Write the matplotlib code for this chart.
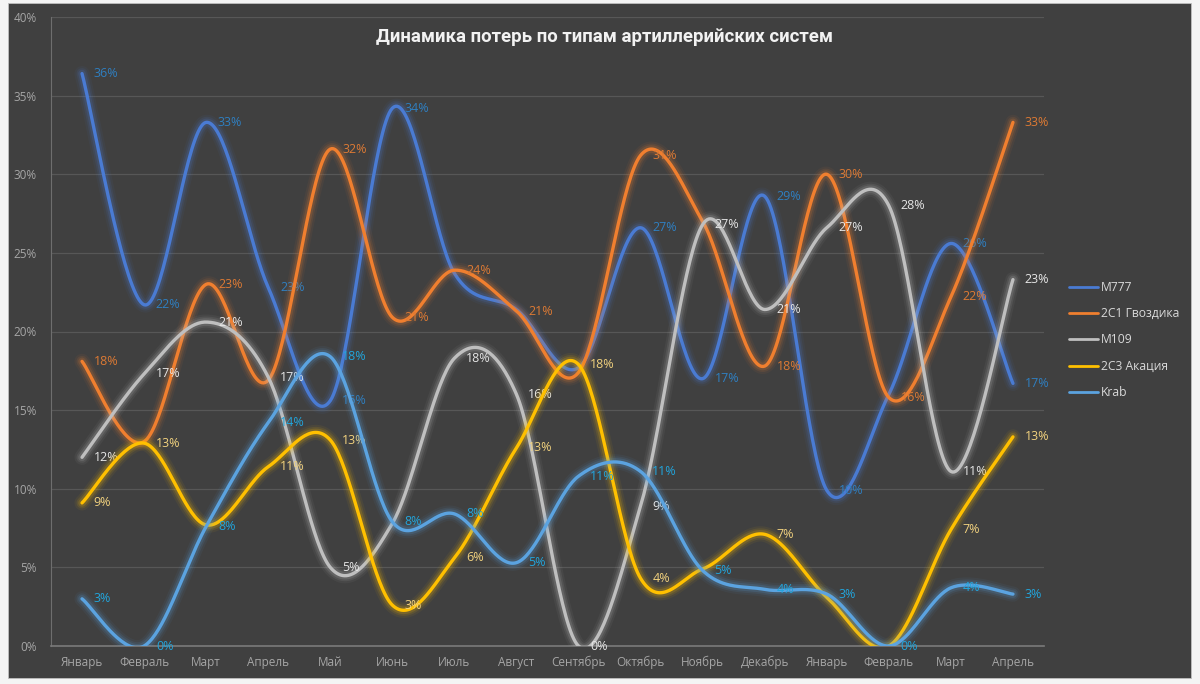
import numpy as np
import matplotlib
matplotlib.use("Agg")
import matplotlib.pyplot as plt
from matplotlib.patches import Rectangle
from matplotlib.ticker import FuncFormatter, MultipleLocator

plt.rcParams['font.family'] = ['Open Sans', 'DejaVu Sans']

title = "Динамика потерь по типам артиллерийских систем"
months = ["Январь", "Февраль", "Март", "Апрель", "Май", "Июнь", "Июль", "Август",
          "Сентябрь", "Октябрь", "Ноябрь", "Декабрь", "Январь", "Февраль", "Март", "Апрель"]

series_names = ["M777", "2С1 Гвоздика", "M109", "2С3 Акация", "Krab"]
m777 = [36.4, 21.7, 33.3, 22.8, 15.6, 34.2, 23.7, 21.4, 17.7, 26.6, 17.0, 28.6, 9.9, 16.0, 25.6, 16.7]
gvozdika = [18.1, 13.0, 23.0, 16.9, 31.6, 20.9, 23.9, 21.3, 17.4, 31.2, 27.0, 17.8, 30.0, 15.8, 22.2, 33.3]
m109 = [12.0, 17.3, 20.6, 17.1, 5.0, 7.8, 18.3, 16.0, 0.0, 8.9, 26.8, 21.4, 26.6, 28.0, 11.1, 23.3]
akacia = [9.1, 12.9, 7.7, 11.4, 13.1, 2.6, 5.6, 12.6, 17.9, 4.3, 4.9, 7.1, 3.1, 0.0, 7.4, 13.3]
krab = [3.0, 0.0, 7.6, 14.2, 18.4, 7.9, 8.4, 5.3, 10.8, 11.1, 4.8, 3.6, 3.3, 0.0, 3.7, 3.3]

all_series = [m777, gvozdika, m109, akacia, krab]
line_colors = ["#4A7BD3", "#F07F2F", "#BFBFBF", "#FFC000", "#5BA3E0"]
label_colors = ["#2F7FC1", "#DD7A34", "#E6E6E6", "#F2D27E", "#22A5DC"]

BG = "#404040"


def smooth(yvals, steps=40):
    n = len(yvals)
    P = np.column_stack([np.arange(n, dtype=float), np.asarray(yvals, dtype=float)])
    out = []
    t = np.linspace(0, 1, steps)[:, None]
    for i in range(n - 1):
        p0 = P[i - 1] if i > 0 else P[i]
        p1 = P[i]
        p2 = P[i + 1]
        p3 = P[i + 2] if i + 2 < n else P[i + 1]
        c1 = p1 + (p2 - p0) / 6.0
        c2 = p2 - (p3 - p1) / 6.0
        seg = (1 - t) ** 3 * p1 + 3 * (1 - t) ** 2 * t * c1 + 3 * (1 - t) * t ** 2 * c2 + t ** 3 * p2
        out.append(seg if i == 0 else seg[1:])
    return np.vstack(out)


fig = plt.figure(figsize=(12, 6.84), dpi=100, facecolor="#F4F4F4")
bg = Rectangle((8 / 1200, 1 - 678 / 684), (1191 - 8) / 1200, (678 - 3) / 684,
               transform=fig.transFigure, facecolor=BG, edgecolor="#BFBFBF",
               linewidth=0.6, zorder=-10)
fig.patches.append(bg)

ax = fig.add_axes([51 / 1200, 1 - 646 / 684, (1044 - 51) / 1200, 629 / 684])
ax.set_facecolor(BG)
ax.patch.set_alpha(0)

for i, (name, vals) in enumerate(zip(series_names, all_series)):
    pts = smooth(vals)
    z = 3 + 2 * i
    col = line_colors[i]
    for lw, a in [(11, 0.06), (8, 0.10), (5.5, 0.16)]:
        ax.plot(pts[:, 0], pts[:, 1], color=col, lw=lw, alpha=a, solid_capstyle='round', zorder=z)
    ax.plot(pts[:, 0], pts[:, 1], color=col, lw=2.4, solid_capstyle='round', zorder=z, label=name)
    for j, v in enumerate(vals):
        # a label exactly covered by a later series' label at the same spot is not visible
        covered = any(abs(later[j] - v) < 1.0 for later in all_series[i + 1:])
        if covered:
            continue
        ax.annotate(f"{v:.0f}%", (j, v), xytext=(8.5, 0), textcoords='offset points',
                    ha='left', va='center', color=label_colors[i], fontsize=9,
                    zorder=z + 1, annotation_clip=False)

ax.set_xlim(-0.5, len(months) - 0.5)
ax.set_ylim(0, 40)
ax.yaxis.set_major_locator(MultipleLocator(5))
ax.yaxis.set_major_formatter(FuncFormatter(lambda v, p: f"{v:.0f}%"))
ax.set_xticks(np.arange(len(months)))
ax.set_xticklabels(months)
ax.tick_params(axis='both', length=0, colors="#A6A6A6", labelsize=8.5)
ax.tick_params(axis='y', pad=10)
ax.tick_params(axis='x', pad=7)
ax.grid(axis='y', color="#575757", lw=0.9, zorder=1)
ax.set_axisbelow(True)
for s in ['top', 'right']:
    ax.spines[s].set_visible(False)
ax.spines['left'].set_color("#6E6E6E")
ax.spines['left'].set_linewidth(0.8)
ax.spines['bottom'].set_color("#7A7A7A")
ax.spines['bottom'].set_linewidth(1.2)

fig.text(604 / 1200, 1 - 37 / 684, title, ha='center', va='center', color="#F2F2F2",
         fontsize=13.4, fontweight='bold', family=['Roboto', 'DejaVu Sans'])

handles, labels = ax.get_legend_handles_labels()
leg = fig.legend(handles, labels, loc='upper left', bbox_to_anchor=(1058 / 1200, 1 - 270 / 684),
                 frameon=False, fontsize=8.7, labelcolor="#D9D9D9", handlelength=2.4,
                 handletextpad=0.25, labelspacing=1.1)
for lh in leg.get_lines():
    lh.set_linewidth(2.0)

fig.savefig("out.png", dpi=100, facecolor=fig.get_facecolor())
